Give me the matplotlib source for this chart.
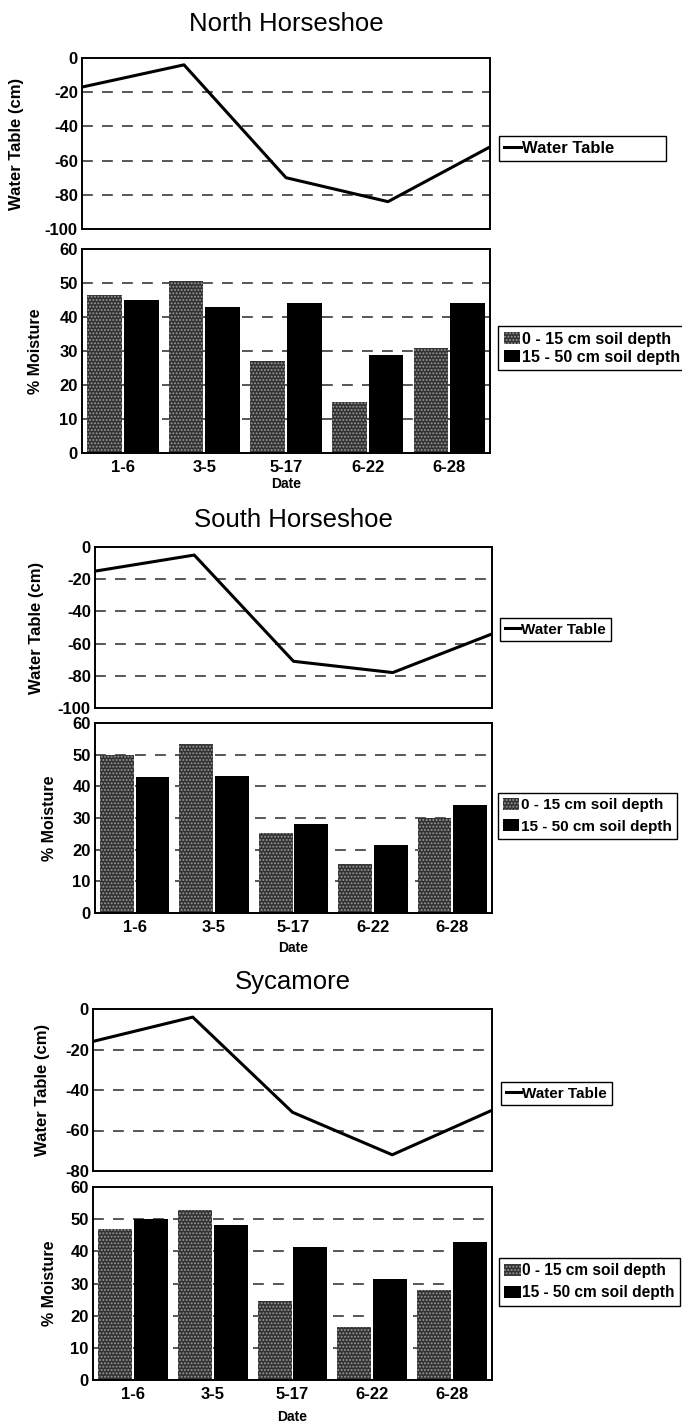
import matplotlib
matplotlib.use("Agg")
import matplotlib.pyplot as plt
import numpy as np

# ---- data -------------------------------------------------------------
dates = ["1-6", "3-5", "5-17", "6-22", "6-28"]
sites = ["North Horseshoe", "South Horseshoe", "Sycamore"]

north_water = [-17, -4, -70, -84, -52]
south_water = [-15, -5, -71, -78, -54]
sycamore_water = [-16, -4, -51, -72, -50]

north_shallow = [46.5, 50.5, 27.2, 15.0, 30.9]
north_deep = [45.0, 42.8, 44.2, 28.8, 44.2]
south_shallow = [50.0, 53.3, 25.2, 15.5, 29.9]
south_deep = [43.0, 43.2, 28.1, 21.5, 34.0]
sycamore_shallow = [46.9, 53.0, 24.7, 16.6, 28.0]
sycamore_deep = [50.0, 48.3, 41.5, 31.3, 42.8]

water_floor = [-100, -100, -80]
shallow_label = "0 - 15 cm soil depth"
deep_label = "15 - 50 cm soil depth"

# ---- style ------------------------------------------------------------
W, H = 682, 1424
plt.rcParams["font.family"] = ["Liberation Sans", "DejaVu Sans"]
plt.rcParams["axes.unicode_minus"] = False
plt.rcParams["hatch.linewidth"] = 0.9

fig = plt.figure(figsize=(W / 100, H / 100), dpi=100)


def rect(x0, x1, ytop, ybot):
    return [x0 / W, 1 - ybot / H, (x1 - x0) / W, (ybot - ytop) / H]


def fx(x):
    return x / W


def fy(y):
    return 1 - y / H


layout = [
    dict(x0=82, x1=490, wt=58, wb=229, bt=249, bb=453, ty=24, dy=484,
         wlx=17, mlx=35, ll=(499, 136), bl=(498, 326), lt="Water Table          ",
         lfs=12, bfs=11.5, ls=0.2),
    dict(x0=95, x1=492, wt=547, wb=708, bt=723, bb=913, ty=520, dy=948,
         wlx=37, mlx=50, ll=(500, 618), bl=(498, 793), lt="Water Table",
         lfs=11, bfs=11, ls=0.45),
    dict(x0=93, x1=492, wt=1009, wb=1171, bt=1187, bb=1380, ty=982, dy=1417,
         wlx=43, mlx=50, ll=(501, 1082), bl=(499, 1258), lt="Water Table",
         lfs=11, bfs=11.2, ls=0.45),
]

water = [north_water, south_water, sycamore_water]
shallow = [north_shallow, south_shallow, sycamore_shallow]
deep = [north_deep, south_deep, sycamore_deep]

tick_font = dict(fontsize=12, fontweight="bold")
dash = (0, (6.5, 5.5))

for i, L in enumerate(layout):
    # water table panel
    ax = fig.add_axes(rect(L["x0"], L["x1"], L["wt"], L["wb"]))
    xs = np.arange(len(dates))
    line, = ax.plot(xs, water[i], color="black", lw=2.2, zorder=3)
    ax.set_xlim(0, len(dates) - 1)
    ax.set_ylim(water_floor[i], 0)
    yt = np.arange(water_floor[i], 1, 20)
    ax.set_yticks(yt)
    ax.set_yticklabels([str(int(v)) for v in yt], **tick_font)
    for v in yt[1:-1]:
        ax.axhline(v, color="#3a3a3a", lw=1.2, ls=dash, zorder=1)
    ax.set_xticks([])
    ax.tick_params(axis="y", length=0, pad=3)
    for s in ax.spines.values():
        s.set_linewidth(1.4)

    fig.text(fx((L["x0"] + L["x1"]) / 2), fy(L["ty"]), sites[i],
             fontsize=18.5, ha="center", va="center")
    fig.text(fx(L["wlx"]), fy((L["wt"] + L["wb"]) / 2), "Water Table (cm)",
             rotation=90, fontsize=12, fontweight="bold", ha="center", va="center")

    fig.legend(handles=[line], labels=[L["lt"]], loc="upper left",
               bbox_to_anchor=(fx(L["ll"][0]), fy(L["ll"][1])),
               bbox_transform=fig.transFigure, borderaxespad=0,
               fancybox=False, framealpha=1, edgecolor="black",
               prop=dict(size=L["lfs"], weight="bold"), handlelength=1.0,
               handletextpad=0.1, borderpad=0.3)

    # soil moisture panel
    bx = fig.add_axes(rect(L["x0"], L["x1"], L["bt"], L["bb"]))
    w = 0.425
    off = 0.225
    b1 = bx.bar(xs - off, shallow[i], width=w, color="#333333",
                edgecolor="#999999", hatch=".....", linewidth=0, zorder=2)
    b2 = bx.bar(xs + off, deep[i], width=w, color="black", linewidth=0,
                zorder=2)
    bx.set_xlim(-0.5, len(dates) - 0.5)
    bx.set_ylim(0, 60)
    bt = np.arange(0, 61, 10)
    bx.set_yticks(bt)
    bx.set_yticklabels([str(v) for v in bt], **tick_font)
    for v in bt[1:-1]:
        bx.axhline(v, color="#3a3a3a", lw=1.2, ls=dash, zorder=1)
    bx.set_xticks(xs)
    bx.set_xticklabels(dates, **tick_font)
    bx.tick_params(axis="y", length=0, pad=3)
    bx.tick_params(axis="x", length=0, pad=5)
    for s in bx.spines.values():
        s.set_linewidth(1.4)

    fig.text(fx(L["mlx"]), fy((L["bt"] + L["bb"]) / 2), "% Moisture",
             rotation=90, fontsize=11.5, fontweight="bold", ha="center", va="center")
    fig.text(fx((L["x0"] + L["x1"]) / 2), fy(L["dy"]), "Date",
             fontsize=10, fontweight="bold", ha="center", va="center")

    fig.legend(handles=[b1, b2], labels=[shallow_label, deep_label],
               loc="upper left", bbox_to_anchor=(fx(L["bl"][0]), fy(L["bl"][1])),
               bbox_transform=fig.transFigure, borderaxespad=0,
               fancybox=False, framealpha=1, edgecolor="black",
               prop=dict(size=L["bfs"], weight="bold"), handlelength=1.05,
               handleheight=0.8, handletextpad=0.1, borderpad=0.35,
               labelspacing=L["ls"])

fig.savefig("out.png", dpi=100)
